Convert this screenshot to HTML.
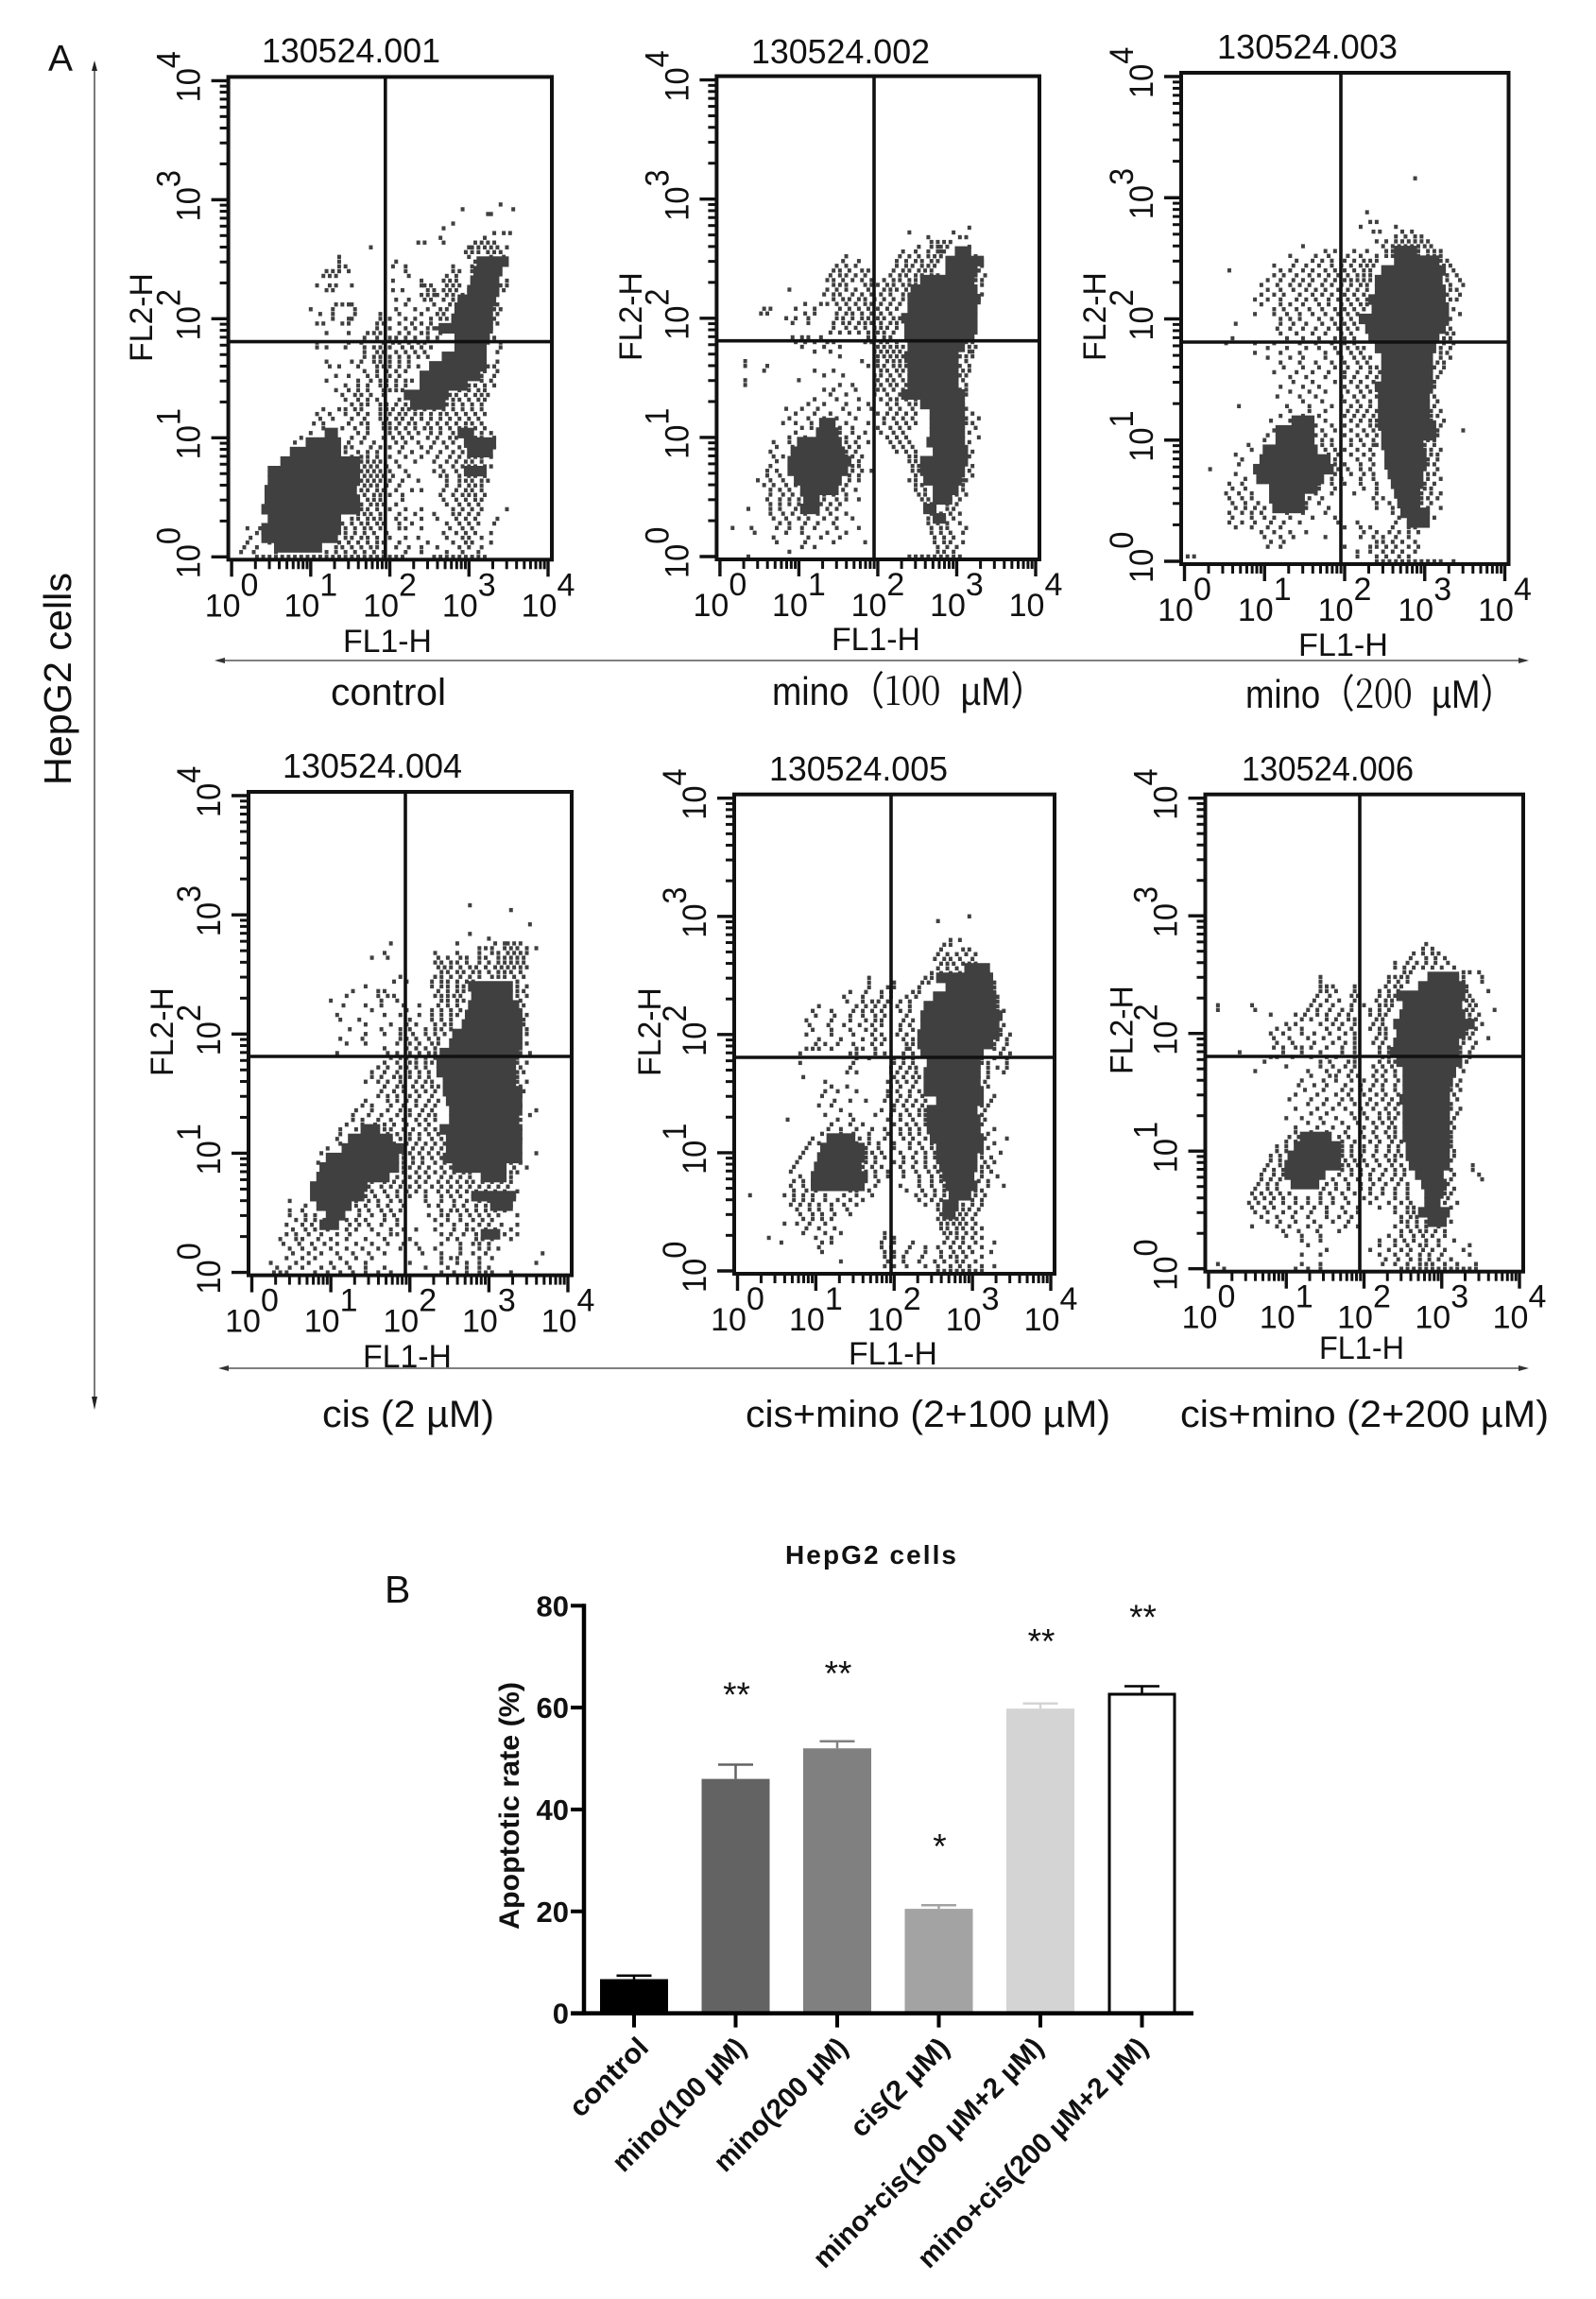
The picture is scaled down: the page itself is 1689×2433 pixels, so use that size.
<!DOCTYPE html>
<html lang="en">
<head>
<meta charset="utf-8">
<title>HepG2 apoptosis flow cytometry and bar chart</title>
<style>
html,body{margin:0;padding:0;background:#fff;}
svg{display:block;font-family:"Liberation Sans","Noto Sans CJK SC",sans-serif;}
</style>
</head>
<body>
<svg id="figure" xmlns="http://www.w3.org/2000/svg" width="1689" height="2433" viewBox="0 0 1689 2433">
  <rect x="0" y="0" width="1689" height="2433" fill="#fff"/>
  <text x="51" y="75" font-size="39" fill="#111">A</text>
  <text x="407" y="1696" font-size="41" fill="#111">B</text>
  <text transform="translate(75,831) rotate(-90)" font-size="41" textLength="225" lengthAdjust="spacingAndGlyphs" fill="#111">HepG2 cells</text>
  <g stroke="#222" fill="#222">
    <line x1="100" y1="68" x2="100" y2="1478" stroke-width="1.2"/>
    <path d="M100 64 L97 75 L103 75 Z" stroke="none"/>
    <path d="M100 1492 L97 1478 L103 1478 Z" stroke="none"/>
  </g>
  <g stroke="#333" fill="#333">
    <line x1="232" y1="699" x2="1610" y2="699" stroke-width="1.2"/>
    <path d="M227 699 L238 696 L238 702 Z" stroke="none"/>
    <path d="M1618 699 L1607 696 L1607 702 Z" stroke="none"/>
  </g>
  <g stroke="#333" fill="#333">
    <line x1="236" y1="1448" x2="1610" y2="1448" stroke-width="1.2"/>
    <path d="M231 1448 L242 1445 L242 1451 Z" stroke="none"/>
    <path d="M1618 1448 L1607 1445 L1607 1451 Z" stroke="none"/>
  </g>
  <text x="350" y="746" font-size="40" textLength="122" lengthAdjust="spacingAndGlyphs" fill="#111">control</text>
  <text x="817" y="746" font-size="42" textLength="290" lengthAdjust="spacingAndGlyphs" fill="#111">mino（<tspan font-family="'Noto Serif CJK SC','Liberation Serif',serif">100</tspan>&#160; µM）</text>
  <text x="1318" y="749" font-size="42" textLength="285" lengthAdjust="spacingAndGlyphs" fill="#111">mino（<tspan font-family="'Noto Serif CJK SC','Liberation Serif',serif">200</tspan>&#160; µM）</text>
  <text x="341" y="1510" font-size="40" textLength="182" lengthAdjust="spacingAndGlyphs" fill="#111">cis (2 µM)</text>
  <text x="789" y="1510" font-size="40" textLength="386" lengthAdjust="spacingAndGlyphs" fill="#111">cis+mino (2+100 µM)</text>
  <text x="1249" y="1510" font-size="40" textLength="390" lengthAdjust="spacingAndGlyphs" fill="#111">cis+mino (2+200 µM)</text>
  <g id="plots"></g>
  <g id="bars"></g>
</svg>
<script>
/* Flow cytometry event data: channels 0-100, 25 channels per decade.
   Solid rows: [yChannel, xStart, xEnd]. Dot rows: [yChannel, x, x, x ...]. */
const plotTitles = ['130524.001','130524.002','130524.003','130524.004','130524.005','130524.006'];
const decadeExponents = ['0','1','2','3','4'];

const solid1 = [[2,14,28],[4,10,33],[6,10,34],[8,12,34],[10,10,40],[12,11,40],[14,11,39],[16,12,40],[18,12,40],[20,16,40],[22,19,34],[24,24,34],[26,30,33],
[62,78,87],[60,77,85],[58,76,84],[56,75,84],[54,72,83],[52,71,82],[50,70,82],[48,66,82],[46,71,81],[44,71,80],[42,67,80],[40,63,80],[38,60,78],[36,60,74],[34,55,68],[32,57,67],[26,72,76],[24,74,83],[22,75,82],[18,74,80]];
const dots1 = [[74,85],[73,89,73],[72,82,81],[70,70],[69,67],[68,83,88,86],[67,66,80],[66,59,61,67,77,79,81,83],[65,44,75,76,78,80,82,84,87],[64,74,76,78,81,83,85],[63,34,75,82,86],[62,34,52,77,86],[61,34,36,51,55,70,76],[60,30,32,34,37,55,70,72,76],[59,29,31,33,56,68,71],[58,51,60,67,69,71,87],
[57,27,31,33,38,60,61,63,68,70,72,85,87],[56,30,32,51,54,62,64,67,69,71,75,84,86],[55,60,62,64,65,68,70,73,76,84],[54,52,56,61,63,67,70,72,83],[53,33,35,37,38,55,64,69,71,83,84],[52,25,32,39,52,58,62,66,68,83,85],[51,28,32,39,47,53,60,65,67,71,84],[50,32,37,38,47,50,55,58,63,66,68,83],[49,27,29,35,37,46,48,53,57,60,63,82,84],[48,46,50,55,58,62,64,65,82],[47,30,37,43,45,47,53,56,60,62,66],[46,42,46,50,52,55,58,62,65,81,83],[45,27,37,41,48,51,53,56,59,61,81,85],[44,27,30,36,42,45,47,50,54,57,60,63,80,85],[43,42,46,48,52,55,58,61,80,84],[42,42,45,47,50,53,56,59,62,80],[41,30,38,41,45,47,50,53,56,80,84],[40,31,34,40,46,48,50,53,56,59,81,83],[39,42,46,49,52,55,80,84],[38,33,37,43,46,50,53,79,83],[37,30,40,44,47,49,52,55,57,79,82],[36,36,40,43,47,49,52,55,73,75,77,80,83],[35,33,37,40,43,48,50,52,54,72,75,78,80],[34,35,39,41,44,48,67,69,71,74,77,79,81],[33,36,40,43,46,53,67,70,72,75,78,80],
[32,38,41,43,47,49,52,55,58,60,62,64,66,68,70,73,76,79],[31,29,34,36,39,41,47,49,51,54,56,58,61,64,67,70,73,76,79],[30,27,31,36,40,43,47,50,53,55,58,60,63,66,68,71,74,77,80],[29,28,32,38,42,47,49,52,54,57,60,63,66,69,72,75,78],[28,26,29,37,41,43,48,50,53,56,58,62,65,68,71,74,76,79],[27,29,35,39,43,48,50,52,55,58,61,63,66,69,72,74,77,80],[26,25,32,40,43,50,53,56,59,63,66,70,73,76,79,82],[25,22,31,38,42,48,51,54,57,62,65,69,71,74,77,79,83],[24,20,37,41,45,52,55,59,64,67,70,74,76,78,82],[23,36,38,44,47,50,54,60,63,68,72,75,77,80,83],[22,36,40,43,46,53,57,62,66,70,73,76,78,81],[21,38,41,43,46,50,55,60,65,69,72,75,77,79,82],[20,41,43,45,47,52,58,64,68,71,74,76,79],[19,40,42,44,46,49,53,66,70,73,75,77,80,82],[18,41,43,45,47,50,55,64,67,71,74,76,78,80],[17,42,44,46,48,51,56,66,68,72,75,77,80],[16,41,43,45,47,50,54,59,68,72,74,76,79,81],[15,42,44,46,49,53,68,72,75,77,79],[14,41,43,46,48,52,57,60,67,71,74,76,79],[13,42,45,47,50,54,66,70,73,75,77,80],[12,40,43,45,47,54,67,71,74,77,79],[11,41,44,46,48,52,68,72,75,78],[10,41,43,46,50,55,60,70,73,76,79,87],[9,40,42,44,47,53,58,64,70,72,75,78],[8,34,38,40,43,45,47,52,55,60,65,71,74,77,84],[7,35,38,41,43,46,48,53,57,68,72,75,78,83],[6,5,9,36,39,42,44,47,53,55,60,69,73,76],[5,8,10,34,36,39,42,45,49,67,71,74,77,82],[4,6,11,36,38,41,43,46,50,55,59,68,73,75,79],[3,5,12,34,37,40,43,46,48,53,62,70,74,76,82],[2,4,8,33,35,38,41,44,46,52,56,60,65,72,75,79],[1,3,7,14,30,33,36,39,42,45,48,55,60,68,73,78],
[0,8,10,12,14,16,18,20,22,24,26,28,30,32,34,36,38,40,42,44,46,48,50,52,54,64,66,68,70,72,74,76,78,80]];

const solid2 = [[64,75,79],[62,72,83],[60,72,81],[58,64,80],[56,61,81],[54,60,82],[52,60,81],[50,58,81],[48,59,81],[46,59,80],[44,60,77],[42,59,75],[40,60,75],[38,60,75],[36,60,75],[34,58,77],[32,64,77],[30,67,77],[28,67,77],[26,67,77],[24,66,77],[22,68,78],[20,64,78],[18,64,77],[16,65,76],[14,68,75],[12,68,73],[10,65,68],[8,68,71],
[28,32,36],[26,31,37],[24,25,38],[22,23,39],[20,22,41],[18,22,40],[16,24,38],[14,26,37],[12,27,31],[10,26,31]];
const dots2 = [[69,79],[68,60,74],[67,66,76,78],[66,67,69,71,73],[65,63,67,69,70,72,79],[64,58,62,66,69,70,71],[63,40,57,60,63,66,68,70,81],[62,39,44,56,59,62,64,67,69,81,83],[61,37,40,43,56,59,61,64,66,68,81,83],[60,36,38,41,45,47,55,58,60,63,65,67,82],[59,35,38,40,43,46,54,57,59,62,64,67,69,81,84],[58,34,36,39,42,45,48,52,55,57,60,62,65,81,83],[57,36,38,40,46,48,50,53,55,58,60,62,83],[56,22,34,37,40,43,47,52,54,56,59,61,81],[55,33,36,38,42,45,48,51,54,58,60,81,83],[54,36,39,41,44,46,49,52,55,58,82],[53,27,32,34,37,40,43,46,48,51,54,57],[52,14,16,24,30,38,41,44,47,50,53,56,81],[51,13,15,27,30,37,40,42,45,48,51,54,81],[50,21,24,28,37,39,42,45,47,50,52,55,57],[49,23,28,36,39,41,44,46,48,51,54,56,81],[48,36,40,43,46,49,51,53,56],[47,35,38,41,44,47,50,52,55,81],[46,23,26,28,32,47,49,52,54,80],[45,24,27,30,34,36,46,48,51,53,56,78,80],
[44,26,33,38,50,52,54,56,58,79,81],[43,30,35,49,51,53,55,57,79,80],[42,38,50,52,54,56,58,76,78,80],[41,8,45,50,53,55,57,59,75,78],[40,8,15,47,50,52,55,57,59,74,76,79],[39,14,30,36,51,53,56,58,74,77,79],[38,33,39,49,51,54,57,60,74,76,78],[37,8,25,50,53,55,58,60,75,77],[36,8,38,42,49,51,54,56,59,75,78],[35,33,36,43,50,52,55,58,76,78],[34,35,40,49,53,57,60,76,78],[33,30,37,44,51,54,56,59,62,76],[32,28,33,40,47,53,56,60,62,75,77],[31,21,26,31,39,44,48,54,57,61,75,78],[30,24,30,35,41,50,53,56,59,62,77,80],[29,22,28,33,37,43,52,55,58,61,78,82],[28,20,24,29,36,40,47,52,56,59,62,78,80],[27,26,29,34,38,42,50,54,57,60,77,81],[26,24,35,38,42,46,51,55,58,77,79],[25,22,27,36,40,44,53,56,59,77,82],[24,17,22,37,40,43,47,54,57,60,77,79],[23,18,23,38,41,44,55,58,61,78],[22,16,23,38,40,43,56,59,62,77,80],[21,17,20,40,42,45,60,62,77,79],[20,18,41,44,60,62,76,78],[19,16,42,44,61,63,77,80],[18,15,18,42,45,48,61,63,77,79],[17,15,19,41,44,62,77,80],[16,12,16,20,41,44,60,62,77,78],[15,14,17,21,24,36,40,62,64,77],[14,16,19,22,36,39,43,62,65,75,77],[13,16,20,23,26,33,36,40,63,65,75,78],[12,15,19,22,25,33,37,40,44,64,66,73,76],[11,16,19,22,25,28,32,35,38,65,67,72,75],[10,9,16,19,24,27,30,34,37,65,67,72,74],[9,16,20,23,27,31,35,40,67,70,73,76],[8,17,21,25,28,33,37,42,66,68,71,74],[7,19,22,27,31,36,66,69,72,76],[6,4,10,18,22,26,30,37,44,67,70,72,78],[5,11,21,26,34,40,67,70,73,77],[4,17,28,32,38,68,71,74],[3,18,27,36,46,68,71,73,77],[2,26,30,69,72,75],[1,22,69,71,74],[0,9,60,62,64,66,68,70,72,74,76]];

const solid3 = [[64,66,72],[62,66,79],[60,62,81],[58,60,80],[56,60,81],[54,58,81],[52,59,82],[50,55,82],[48,57,81],[46,58,79],[44,60,78],[42,62,77],[40,62,77],[38,62,77],[36,60,77],[34,61,76],[32,61,76],[30,61,76],[28,61,78],[26,62,78],[24,62,74],[22,63,75],[20,63,75],[18,64,74],[16,65,74],[14,66,73],[12,67,73],[10,68,76],[8,70,76],
[29,34,40],[27,29,40],[25,29,40],[23,25,41],[21,24,45],[19,22,46],[17,23,43],[15,27,41],[13,27,37],[11,28,37]];
const dots3 = [[79,72],[72,57],[70,58,60],[69,55,66],[68,59,61,68,71],[67,66,69,72,74],[66,60,63,66,68,70,72,74,76],[65,37,62,65,67,69,71,73,75,77],[64,44,47,53,57,63,65,68,70,73,76,78,80],[63,33,41,45,51,55,60,63,65,68,71,73,76,78,80],[62,35,40,43,46,50,53,56,58,60,80,82],[61,28,34,38,42,46,49,52,55,57,59,81,83],[60,14,30,33,37,40,44,47,50,53,56,58,81,84],[59,28,31,35,39,42,45,48,51,54,56,58,82,85],[58,26,30,34,37,40,44,47,50,52,54,56,58,82,86],[57,24,29,33,36,39,43,46,49,52,55,57,83,87],[56,26,30,34,38,41,44,48,51,54,57,83,85],[55,24,28,31,36,40,43,46,50,53,56,82,86],[54,22,26,30,35,38,41,45,48,51,54,57,83,85],[53,24,30,33,37,42,45,49,52,55,57,82],[52,28,31,35,39,43,47,50,53,56,82,84],[51,22,28,32,36,40,44,48,51,54,82,86],[50,30,33,36,42,46,49,52,83],[49,16,30,34,38,43,47,50,53,82],[48,29,33,37,41,45,48,51,54,83],[47,30,35,40,44,49,52,82,84],[46,15,32,37,42,47,50,53,81,83],[45,13,22,28,36,41,46,50,53,81,84],[44,26,32,38,42,47,51,54,56,80,83],[43,22,30,36,44,48,52,55,80,82],[42,26,33,37,44,49,53,56,58,80,83],[41,30,36,41,46,50,54,57,79,81],[40,31,37,42,47,51,55,58,60,78,81],
[39,28,35,40,45,50,54,58,61,77,80],[38,33,38,44,50,53,57,60,62,76,79],[37,34,40,47,52,55,59,62,76,78],[36,30,37,42,50,54,57,60,62,75,78],[35,33,39,44,51,55,58,61,75,77],[34,29,36,41,49,53,56,60,62,75,78],[33,37,43,50,54,58,61,76,79],[32,17,32,39,46,52,55,58,61,76,78],[31,33,39,44,51,54,57,60,77,80],[30,30,37,42,50,53,56,59,61,77,79],[29,27,33,39,44,52,55,58,60,77,81],[28,38,41,46,50,54,58,60,77,80],[27,28,40,43,47,52,56,59,77,79,87],[26,26,41,44,50,54,57,60,76,79],[25,25,40,43,46,52,55,59,76,78],[24,20,43,46,52,56,59,60,75,78],[23,21,44,47,50,54,58,75,77,80],[22,16,45,48,52,56,59,74,77,79],[21,18,45,47,54,58,74,76,79],[20,17,47,50,55,59,73,76,78],[19,8,48,51,55,58,73,75,79],[18,16,47,52,56,59,73,76,78],[17,19,46,49,55,59,73,76,80],[16,14,18,39,42,46,50,55,60,72,75,78],[15,15,19,39,42,47,56,60,72,75,77],[14,13,17,21,36,41,46,53,60,74,77,80],[13,14,18,21,35,39,43,59,62,74,76,79],[12,15,19,23,34,38,42,60,64,74,77],[11,16,19,22,25,33,38,45,60,65,73,76,80],[10,14,18,21,24,32,37,44,65,73,76],[9,15,21,25,28,33,40,47,67,73,75,78],[8,14,18,22,27,31,36,48,54,66,70,73],[7,16,21,26,30,50,55,58,65,70,72],[6,24,28,33,38,56,60,64,67,70,73],[5,25,30,34,44,55,59,62,66,70],[4,27,31,60,62,65,68,72],[3,26,30,50,58,60,63,66,70,73],[2,54,58,62,65,68,72],[1,1,3,54,60,63,67,70],[0,60,62,64,66,68,70,72,74,76,78,80,84]];

const solid4 = [[60,69,82],[58,70,82],[56,69,84],[54,68,85],[52,67,85],[50,64,85],[48,63,85],[46,60,84],[44,59,83],[42,59,83],[40,61,83],[38,61,85],[36,62,85],[34,63,85],[32,63,84],[30,60,85],[28,62,85],[26,62,85],[24,61,85],[22,64,80],[20,73,80],[16,70,83],[14,76,82],[8,73,78],
[30,35,40],[28,31,44],[26,29,48],[24,24,46],[22,22,46],[20,21,43],[18,19,36],[16,19,35],[14,21,31],[12,24,29],[10,22,27]];
const dots4 = [[77,69],[76,82],[73,88],[71,69],[70,75],[69,44,65,77,80,81,83,85],[68,72,74,76,80,82,84,87,90],[67,42,58,65,72,76,78,81,83,85,87],[66,38,43,59,62,66,68,72,74,78,80,82,84,86],[65,58,60,63,65,68,72,75,78,80,82,84,86],[64,59,61,63,66,69,71,74,77,79,81,83,85,87],[63,60,62,65,67,70,72,75,78,80,82,85],[62,47,58,60,63,66,69,72,76,78,80,83,86],[61,45,49,57,60,62,65,68,70,84],[60,36,57,60,62,65,67,84,87],[59,32,40,42,59,62,65,67,84,86],[58,30,40,43,45,58,60,62,64,66,84,87],[57,25,41,46,60,62,65,67,85],[56,29,36,41,48,53,59,62,65,86],[55,38,49,57,60,63,66,85],[54,27,42,47,53,57,60,63,65,85,87],[53,28,34,50,57,60,63,86],[52,36,44,49,52,58,61,63,86],[51,31,41,47,50,55,58,60,63,85,87],[50,36,42,47,51,55,58,61,85,87],[49,28,35,47,49,52,56,59,85],[48,30,36,46,50,53,57,59,85,87],[47,42,49,52,55,58,85],[46,27,43,46,50,53,56,58,85,88],[45,44,47,49,52,55,58,84],[44,42,46,50,52,55,57,84,87],[43,40,43,47,49,52,55,85],[42,38,42,46,50,53,56,84,86],[41,38,41,45,47,50,53,56,84],[40,36,40,43,47,52,55,57,84,87],[39,42,46,48,51,54,57,59,83,85],[38,41,45,48,52,55,58,83,86],[37,40,43,46,50,53,57,83,85],[36,36,43,46,49,52,56,59,83],[35,35,38,44,48,52,55,58,82,85],[34,33,38,43,47,50,54,57,82,84,90],[33,32,37,41,46,50,53,56,58,82,88],[32,32,35,40,44,48,52,55,58,82,85],[31,30,35,39,42,45,49,53,56,82,84],[30,28,33,42,44,48,51,55,58,82,85],[29,28,43,46,50,53,56,59,62,80,83],[28,27,44,47,50,53,57,60,63,80,82,85],[27,28,45,49,52,55,58,61,63,80,83],[26,24,48,51,54,57,60,63,65,80,82],[25,22,48,50,53,56,59,62,65,82,84,90],[24,48,51,54,57,60,63,66,82,84],[23,21,48,51,54,58,61,64,67,82,85],[22,48,50,53,56,60,63,66,68,83,87],[21,48,52,55,58,61,64,67,69,82,84],[20,42,46,50,53,56,60,63,66,69,82],[19,38,42,45,48,52,55,59,62,65,68,70,73,76,79,82],[18,37,41,44,47,50,53,57,60,63,66,69,72,75,78,81],[17,38,42,46,49,52,55,59,62,65,68,71,74,77,80,84],[16,36,39,43,46,50,55,60,63,66,70,73,76,80,83],[15,12,33,37,40,44,47,55,60,64,68,72,75,79,82],[14,17,33,36,40,43,48,56,59,64,67,71,74,78,82],[13,12,16,34,37,41,44,47,60,63,65,68,71,74,77,80],[12,12,17,20,34,38,42,45,56,60,62,66,69,72,75,78,84],[11,14,17,20,23,30,33,36,42,46,58,62,66,70,73,76],[10,11,16,19,31,34,37,41,46,60,64,68,72,75,79,84],[9,13,17,20,24,30,33,38,44,48,52,58,64,68,70,74,77,82],[8,11,14,18,22,27,31,40,44,46,60,63,67,71,75,80,84],[7,9,14,16,21,25,30,36,42,50,62,65,71,73,76,82],[6,10,15,19,23,27,33,38,43,48,52,60,66,70,72,75],[5,12,16,20,25,30,35,40,47,53,58,66,72,75,78],[4,13,18,22,27,32,37,42,54,60,66,70,74,92],[3,11,16,20,28,33,38,60,63,65,72,76],[2,6,14,18,25,30,36,50,60,65,68,72,90],[1,8,12,16,22,26,31,36,42,55,62,68,72,75],[0,7,9,11,20,24,28,32,36,40,44,60,64,68,72,74,76,82]];

const solid5 = [[64,73,80],[62,64,81],[60,67,81],[58,63,82],[56,60,82],[54,59,84],[52,59,83],[50,58,83],[48,58,81],[46,59,78],[44,61,77],[42,60,77],[40,60,77],[38,60,78],[36,64,78],[34,61,76],[32,61,77],[30,61,77],[28,62,78],[26,64,78],[24,64,76],[22,65,76],[20,66,75],[18,67,76],[16,68,74],[14,66,70],[12,66,69],
[28,29,37],[26,27,40],[24,26,40],[22,25,39],[20,24,41],[18,24,40]];
const dots5 = [[75,74],[74,64],[70,68,71],[69,66,68],[68,65,72,74],[67,64,67,70,73,76],[66,63,66,68,71,75],[65,65,67,69,72,74,76],[64,64,67,70,73,76,78],[63,62,65,68,71,74,77,80],[62,42,60,62,81],[61,42,50,59,61,82],[60,42,48,50,58,82],[59,36,41,46,49,56,58,82],[58,34,40,46,49,54,57,83],[57,35,40,43,45,48,52,55,83],[56,26,38,41,44,47,51,55,83],[55,24,30,37,40,43,46,52,55,83,85],[54,25,31,36,40,44,47,54,84],[53,22,30,36,41,44,46,53,56,83],[52,23,29,34,39,43,46,52,55,85],[51,24,30,36,41,44,52,56,84],[50,22,30,37,43,46,51,54,84,87],[49,26,33,40,44,47,53,56,83,86],[48,25,28,32,37,43,46,54,56,82,86],[47,22,24,26,30,38,40,44,54,55,82,85],[46,20,36,38,44,47,53,56,84,87],[45,38,42,50,53,56,78,82,86],[44,20,37,50,53,56,78,80,86],[43,36,49,52,55,57,77,80,83,86],[42,35,38,49,51,54,57,77,80,85],[41,21,50,53,56,58,77,80],[40,28,48,51,54,57,76,79],[39,30,35,49,52,56,77,80],[38,28,32,38,48,51,55,58,78],[37,27,48,52,55,59,78,82],[36,31,36,41,47,51,54,57,60,78,81],[35,26,30,50,53,56,59,78,80],[34,33,46,50,54,58,60,76,79],[33,28,36,44,49,52,55,58,60,76,78],[32,16,32,37,48,52,56,60,76,79],[31,30,36,40,50,54,57,60,62,76,78],[30,29,33,38,43,47,52,55,58,62,77,82],[29,27,33,37,42,48,52,55,58,62,77,80],[28,24,36,39,42,47,53,56,60,63,77,79,86],[27,26,23,38,42,45,50,55,58,62,65,78,82],[26,22,38,41,45,50,55,59,62,64,78,80],[25,21,41,43,46,52,57,60,63,65,78,84],[24,20,41,44,47,53,56,60,63,65,78,81],[23,19,41,44,50,53,57,60,64,79,82],[22,18,40,43,46,52,56,60,63,66,78,80],[21,17,41,44,48,53,57,61,64,66,78,81],[20,20,38,41,44,48,53,58,62,65,78,83],[19,18,21,24,38,41,45,58,62,65,77,80],[18,17,21,24,36,39,44,52,58,62,66,76,80,85],[17,18,22,25,36,38,42,54,59,63,66,76,78],[16,4,15,18,21,24,28,34,38,43,57,60,63,66,76,79],[15,18,21,24,28,32,36,40,58,62,65,68,75,78],[14,17,20,23,26,30,34,38,60,64,68,72,75,78],[13,19,23,26,30,35,64,66,68,70,72,74,77],[12,20,24,27,31,36,65,67,69,71,73,76],[11,21,24,27,30,64,66,68,70,72,75],[10,15,19,23,28,65,67,69,71,73,76],[9,22,26,31,65,67,70,72,75,78],[8,21,28,33,47,66,68,70,73,76],[7,10,25,30,47,50,67,70,72,75,78],[6,14,27,30,46,50,56,66,69,72,76,82],[5,26,46,49,55,60,64,68,71,74,78],[4,27,47,50,54,60,65,69,72,75,81],[3,47,50,53,59,65,68,70,73,78],[2,33,48,53,58,63,66,70,72,76],[1,47,50,54,60,64,68,71,74,78,82],[0,64,66,68,70,72,74,76,78]];

const solid6 = [[62,71,80],[60,68,82],[58,61,82],[56,63,81],[54,62,82],[52,60,85],[50,61,82],[48,60,80],[46,59,80],[44,61,81],[42,63,79],[40,63,78],[38,63,77],[36,62,77],[34,63,77],[32,63,77],[30,63,77],[28,63,77],[26,64,77],[24,64,77],[22,65,77],[20,67,75],[18,69,76],[16,70,75],[14,70,74],[12,68,77],[10,71,76],
[28,30,39],[26,28,42],[24,26,42],[22,25,42],[20,25,37],[18,27,35]];
const dots6 = [[69,70],[68,69,72],[67,66,69,72,74],[66,65,70,73,76],[65,60,64,67,70,73,77],[64,60,63,66,69,72,75,79],[63,63,65,82,84,87],[62,36,58,60,62,64,80,82,88],[61,36,58,61,64,80,82,88],[60,36,38,40,47,57,60,62,81,83],[59,36,38,41,47,55,58,61,83,90],[58,35,39,46,48,55,58,60,84],[57,34,38,42,47,54,57,59,83,85],[56,3,14,33,36,40,46,50,55,57,59,84,86],[55,3,15,32,35,39,43,46,52,55,58,83,85,92],[54,20,28,31,35,38,42,45,52,55,57,84,87],[53,30,33,38,41,45,47,54,56,84,86],[52,25,28,36,40,43,47,53,56,84,88],[51,22,26,30,38,42,46,52,55,57,83,86],[50,20,24,30,34,39,44,47,55,57,83,85],[49,21,26,32,37,42,47,54,57,82,84,90],[48,22,27,34,40,44,47,53,56,82,86],[47,21,24,28,30,33,38,43,47,55,58,81,85],[46,10,24,30,36,43,47,55,58,81,84],[45,20,22,27,33,38,41,47,56,58,80,84],[44,18,36,39,45,47,55,58,60,80,83],[43,25,36,40,44,47,53,56,59,79,81],[42,15,32,38,42,46,54,57,60,79,82],[41,33,39,41,45,48,53,56,60,79],[40,30,37,41,46,50,54,57,61,78,81],[39,29,34,38,44,49,53,56,60,78,80],[38,31,37,43,46,49,52,56,60,78,81],[37,28,35,41,45,50,54,57,61,77,79],[36,26,33,38,43,46,52,56,59,62,77,80],[35,32,37,42,47,51,54,58,61,78],[34,28,35,40,44,49,53,57,60,78,81],[33,33,38,46,50,55,58,61,77,80],[32,25,30,36,41,47,51,55,58,60,77,79],[31,32,37,43,48,53,56,59,76,78],[30,28,35,40,45,50,54,58,60,76,79],[29,28,33,38,44,49,53,57,60,76,78],[28,26,29,33,42,45,50,54,58,60,76,78],[27,25,28,43,47,52,55,59,62,75,78],[26,22,25,29,43,46,50,54,58,61,75,78],[25,22,25,43,46,50,54,58,61,75,79],[24,20,23,43,46,49,53,57,60,62,76,79],[23,20,23,44,47,50,54,58,60,76,78],[22,19,23,43,45,48,51,55,59,62,76,85],[21,18,21,24,43,46,49,53,57,60,63,75,78,85],[20,17,21,24,42,46,49,52,56,60,63,75,79,87],[19,17,20,23,40,44,48,52,55,59,62,75,78,88],[18,16,19,22,38,41,45,49,53,57,61,64,75,77],[17,15,19,22,37,41,45,49,52,56,60,64,76,79],[16,14,17,20,23,26,36,39,43,47,52,56,60,64,76,78],[15,15,18,21,24,28,32,36,40,44,50,54,60,64,74,77],[14,13,16,20,24,28,32,36,40,45,52,58,62,65,74,76,80],[13,14,18,21,26,30,34,38,43,48,55,60,64,66,74,78],[12,15,19,24,28,33,38,44,48,60,64,66,73,76],[11,17,22,27,32,38,42,46,62,65,67,73,76],[10,19,23,28,34,40,45,62,64,67,70,74,78],[9,14,22,26,32,36,44,48,60,64,67,70,74],[8,24,29,35,42,62,65,68,70,73,76],[7,25,30,36,58,62,66,69,72,76],[6,30,36,55,60,63,66,70,74,79],[5,32,55,60,64,68,70,74,84],[4,38,52,58,62,65,69,72,76,82],[3,30,36,55,60,64,68,71,75,84],[2,57,61,65,68,71,74,78],[1,3,30,36,56,60,64,68,70,72,76,80,86],[0,5,28,32,36,62,64,66,68,70,72,74,76,78,80,82,84,86]];

const solidRows = [solid1, solid2, solid3, solid4, solid5, solid6];
const dotRows = [dots1, dots2, dots3, dots4, dots5, dots6];

/* Bar chart data */
const barCategories = ['control','mino(100 µM)','mino(200 µM)','cis(2 µM)','mino+cis(100 µM+2 µM)','mino+cis(200 µM+2 µM)'];
const barValues = [6.7, 46, 52, 20.5, 59.8, 62.9];
const barErrors = [0.7, 2.8, 1.4, 0.7, 1.0, 1.3];
const barStars = ['', '**', '**', '*', '**', '**'];
const barStarValues = [0, 64.3, 68.5, 34.5, 74.8, 79.5];
const yTickValues = [0, 20, 40, 60, 80];

const SVGNS = 'http://www.w3.org/2000/svg';
const INK = '#404040';
function mk(tag, attrs, parent, text) {
  const el = document.createElementNS(SVGNS, tag);
  for (const k in attrs) el.setAttribute(k, attrs[k]);
  if (text !== undefined) el.textContent = text;
  parent.appendChild(el);
  return el;
}

/* Layout of each plot frame in page pixels (not data) */
const frames = [
 {l:241.6,r:584,t:81.4,b:592.3,v:407.8,h:361.6,tx:277,ty:66,tw:189,fx:363,fy:690,fw:94,gx:161,gy:383},
 {l:758.4,r:1100,t:80.6,b:592,v:925,h:360.7,tx:795,ty:67,tw:189,fx:880,fy:688,fw:94,gx:679,gy:382},
 {l:1250,r:1596.5,t:77,b:597,v:1419,h:362,tx:1288,ty:62,tw:191,fx:1374,fy:694,fw:95,gx:1170,gy:382},
 {l:263,r:605,t:838,b:1349.6,v:429,h:1118,tx:299,ty:823,tw:190,fx:384,fy:1447,fw:94,gx:183,gy:1139},
 {l:777,r:1116,t:840.7,b:1348,v:943,h:1119,tx:814,ty:826,tw:189,fx:898,fy:1444,fw:94,gx:699,gy:1139},
 {l:1275.5,r:1612,t:840.7,b:1345.7,v:1439,h:1118,tx:1314,ty:826,tw:182,fx:1396,fy:1438,fw:90,gx:1198.5,gy:1137}
];
function xScale(f, ch) { const x0 = f.l + 3.5, x4 = f.r - 4; return x0 + ch * (x4 - x0) / 100; }
function yScale(f, ch) { const y0 = f.b - 3, y4 = f.t + 4; return y0 - ch * (y0 - y4) / 100; }

const plotsRoot = document.getElementById('plots');
frames.forEach(function (f, i) {
  const g = mk('g', {}, plotsRoot);
  
  

  const events = mk('g', {fill: INK}, g);
  
  
  solidRows[i].forEach(function (row) {
    const x1 = xScale(f, row[1]) - 2, x2 = xScale(f, row[2]) + 2;
    const yc = yScale(f, row[0]);
    const r = mk('rect', {x: x1, y: yc - 5.6, width: x2 - x1, height: 11.2}, events);
    
    
  });
  dotRows[i].forEach(function (row) {
    const yc = yScale(f, row[0]);
    row.slice(1).forEach(function (ch) {
      const r = mk('rect', {x: xScale(f, ch) - 2, y: yc - 2.2, width: 4, height: 4.4}, events);
      
      
    });
  });

  const frame = mk('rect', {x: f.l, y: f.t, width: f.r - f.l, height: f.b - f.t, fill: 'none', stroke: '#111', 'stroke-width': 4}, g);
  
  
  const qv = mk('line', {x1: f.v, x2: f.v, y1: f.t, y2: f.b, stroke: '#111', 'stroke-width': 3.6}, g);
  
  
  const qh = mk('line', {x1: f.l, x2: f.r, y1: f.h, y2: f.h, stroke: '#111', 'stroke-width': 3.6}, g);
  
  

  for (let d = 0; d <= 4; d++) {
    const cx = d * 25;
    const xt = mk('line', {x1: xScale(f, cx), x2: xScale(f, cx), y1: f.b, y2: f.b + 18, stroke: '#111', 'stroke-width': 3.4}, g);
    
    
    const yt = mk('line', {x1: f.l - 18, x2: f.l, y1: yScale(f, cx), y2: yScale(f, cx), stroke: '#111', 'stroke-width': 3.4}, g);
    
    

    const xl = mk('text', {x: xScale(f, cx), y: f.b + 60, 'font-size': 34, 'text-anchor': 'middle', fill: '#111'}, g);
    
    
    mk('tspan', {}, xl, '10');
    mk('tspan', {dy: -22}, xl, decadeExponents[d]);

    const yl = mk('text', {transform: 'translate(' + (f.l - 30) + ',' + (yScale(f, cx) + 23) + ') rotate(-90) scale(0.93,1)', 'font-size': 35, fill: '#111'}, g);
    
    
    mk('tspan', {}, yl, '10');
    mk('tspan', {dy: -21}, yl, decadeExponents[d]);

    if (d < 4) {
      for (let m = 2; m <= 9; m++) {
        const c = (d + Math.log10(m)) * 25;
        const xm = mk('line', {x1: xScale(f, c), x2: xScale(f, c), y1: f.b, y2: f.b + 10, stroke: '#111', 'stroke-width': 3}, g);
        
        
        const ym = mk('line', {x1: f.l - 9, x2: f.l, y1: yScale(f, c), y2: yScale(f, c), stroke: '#111', 'stroke-width': 3}, g);
        
        
      }
    }
  }

  const title = mk('text', {x: f.tx, y: f.ty, 'font-size': 36, textLength: f.tw, lengthAdjust: 'spacingAndGlyphs', fill: '#111'}, g, plotTitles[i]);
  
  
  const xTitle = mk('text', {x: f.fx, y: f.fy, 'font-size': 34, textLength: f.fw, lengthAdjust: 'spacingAndGlyphs', fill: '#111'}, g, 'FL1-H');
  
  
  const yTitle = mk('text', {transform: 'translate(' + f.gx + ',' + f.gy + ') rotate(-90)', 'font-size': 34, textLength: 94, lengthAdjust: 'spacingAndGlyphs', fill: '#111'}, g, 'FL2-H');
  
  
});

/* Bar chart */
const barsRoot = document.getElementById('bars');
const barLayout = {axisX: 618, y0: 2130.6, y80: 1699.3, firstCenter: 671, step: 107.5, barW: 72, xEnd: 1263, xStart: 604};
const barFills = ['#000000', '#636363', '#808080', '#a3a3a3', '#d4d4d4', '#ffffff'];
const labelLengths = [104, 186, 186, 134, 330, 330];
const labelShifts = [7, 3, 3, 3, -5, -2];
function barY(v) { return barLayout.y0 - v * (barLayout.y0 - barLayout.y80) / 80; }
function barX(i) { return barLayout.firstCenter + i * barLayout.step; }

barCategories.forEach(function (cat, i) {
  const cx = barX(i), top = barY(barValues[i]), errTop = barY(barValues[i] + barErrors[i]);
  const isWhite = barFills[i] === '#ffffff';
  const errColor = isWhite ? '#000' : barFills[i];
  const stem = mk('line', {x1: cx, x2: cx, y1: top, y2: errTop, stroke: errColor, 'stroke-width': 2.5}, barsRoot);
  
  
  const cap = mk('line', {x1: cx - 18.5, x2: cx + 18.5, y1: errTop, y2: errTop, stroke: errColor, 'stroke-width': 2.5}, barsRoot);
  
  
  const inset = isWhite ? 1.5 : 0;
  const bar = mk('rect', {x: cx - barLayout.barW / 2 + inset, y: top + inset, width: barLayout.barW - 2 * inset, height: barLayout.y0 - top - inset, fill: barFills[i]}, barsRoot);
  if (isWhite) { bar.setAttribute('stroke', '#000'); bar.setAttribute('stroke-width', 3); }
  
  

  const tick = mk('line', {x1: cx, x2: cx, y1: barLayout.y0, y2: barLayout.y0 + 15, stroke: '#000', 'stroke-width': 4}, barsRoot);
  
  

  const ax = cx + 10 + labelShifts[i], ay = barLayout.y0 + 38;
  const lbl = mk('text', {transform: 'translate(' + ax + ',' + ay + ') rotate(-45)', 'text-anchor': 'end', 'font-size': 30, 'font-weight': 'bold', textLength: labelLengths[i], lengthAdjust: 'spacingAndGlyphs', fill: '#111'}, barsRoot, cat);
  
  

  if (barStars[i]) {
    const st = mk('text', {x: cx + 1, y: barY(barStarValues[i]) + 22, 'font-size': 37, 'text-anchor': 'middle', fill: '#111'}, barsRoot, barStars[i]);
    
    
  }
});

yTickValues.forEach(function (v) {
  const y = barY(v);
  const t = mk('line', {x1: barLayout.xStart, x2: barLayout.axisX, y1: y, y2: y, stroke: '#000', 'stroke-width': 4}, barsRoot);
  
  
  const l = mk('text', {x: 602, y: y + 11, 'font-size': 31, 'font-weight': 'bold', 'text-anchor': 'end', fill: '#111'}, barsRoot, String(v));
  
  
});
const yAxis = mk('line', {x1: barLayout.axisX, x2: barLayout.axisX, y1: barLayout.y80 - 2, y2: barLayout.y0 + 2, stroke: '#000', 'stroke-width': 4.5}, barsRoot);


const xAxis = mk('line', {x1: barLayout.xStart, x2: barLayout.xEnd, y1: barLayout.y0, y2: barLayout.y0, stroke: '#000', 'stroke-width': 4.5}, barsRoot);


const barTitle = mk('text', {x: 831, y: 1655, 'font-size': 28, 'font-weight': 'bold', textLength: 181, lengthAdjust: 'spacing', fill: '#111'}, barsRoot, 'HepG2 cells');


const barYTitle = mk('text', {transform: 'translate(549,2042) rotate(-90)', 'font-size': 30, 'font-weight': 'bold', textLength: 262, lengthAdjust: 'spacingAndGlyphs', fill: '#111'}, barsRoot, 'Apoptotic rate (%)');


</script>
</body>
</html>
